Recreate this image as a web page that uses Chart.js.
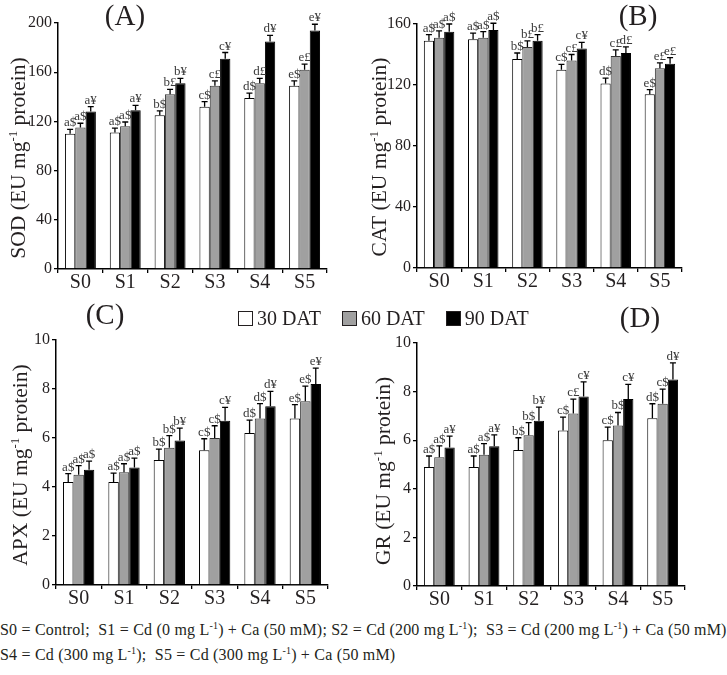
<!DOCTYPE html>
<html>
<head>
<meta charset="utf-8">
<script src="https://cdn.jsdelivr.net/npm/chart.js@4.4.0/dist/chart.umd.min.js"></script>
<style>
  body { margin: 0; width: 727px; height: 675px; background: #fff; position: relative; overflow: hidden;
         font-family: "Liberation Serif", "Times New Roman", serif; color: #231f20; }
  canvas { position: absolute; }
  .tag { position: absolute; font-size: 29px; line-height: 1; transform: translate(-50%, -50%); white-space: nowrap; }
  #legend { position: absolute; left: 238px; top: 308px; height: 20px; font-size: 20px; line-height: 20px; white-space: nowrap; }
  #legend span.key { display: inline-block; width: 13px; height: 13px; border: 1.5px solid #231f20; vertical-align: -1px; margin-right: 4px; }
  #legend span.item { margin-right: 16px; }
  .note { position: absolute; left: 0; font-size: 16px; line-height: 16px; letter-spacing: 0.2px; white-space: pre; }
  .note sup { font-size: 10px; vertical-align: 6px; line-height: 0; }
</style>
</head>
<body>
<canvas id="chartA" width="360" height="300" style="left:0;top:0"></canvas>
<canvas id="chartB" width="367" height="300" style="left:360px;top:0"></canvas>
<canvas id="chartC" width="360" height="320" style="left:0;top:300px"></canvas>
<canvas id="chartD" width="367" height="320" style="left:360px;top:300px"></canvas>

<div class="tag" style="left:125px;top:15px">(A)</div>
<div class="tag" style="left:638px;top:15px">(B)</div>
<div class="tag" style="left:105px;top:314px">(C)</div>
<div class="tag" style="left:640px;top:317px">(D)</div>

<div id="legend">
  <span class="item"><span class="key" style="background:#fff"></span>30 DAT</span>
  <span class="item"><span class="key" style="background:#a0a0a0"></span>60 DAT</span>
  <span class="item"><span class="key" style="background:#000"></span>90 DAT</span>
</div>

<div class="note" style="top:622px">S0 = Control;  S1 = Cd (0 mg L<sup>-1</sup>) + Ca (50 mM); S2 = Cd (200 mg L<sup>-1</sup>);  S3 = Cd (200 mg L<sup>-1</sup>) + Ca (50 mM)</div>
<div class="note" style="top:647px">S4 = Cd (300 mg L<sup>-1</sup>);  S5 = Cd (300 mg L<sup>-1</sup>) + Ca (50 mM)</div>

<script>
// Treatments and harvest times
const categories = ["S0", "S1", "S2", "S3", "S4", "S5"];
const seriesNames = ["30 DAT", "60 DAT", "90 DAT"];

// SOD (A): means, errors, significance letters for 30 / 60 / 90 DAT
const sodMean = [[110, 111, 125, 132, 139, 149], [115, 116, 142, 149, 151, 162], [128, 129, 151, 171, 185, 194]];
const sodErr = [[3.5, 3.5, 3.5, 4, 4, 4], [3.5, 3.5, 4, 4, 4, 4.5], [4, 4, 4, 5, 5, 5]];
const sodSig = [["a$", "a$", "b$", "c$", "d$", "e$"], ["a$", "a$", "b£", "c£", "d£", "e£"], ["a¥", "a¥", "b¥", "c¥", "d¥", "e¥"]];
const sodTicks = [0, 40, 80, 120, 160, 200];

// CAT (B)
const catMean = [[149, 150, 137, 130, 121, 114], [151, 151, 145, 136, 139, 131], [155, 156, 149, 144, 141, 134]];
const catErr = [[4, 4, 4, 3.5, 3.5, 3], [4.5, 4, 4, 4, 4, 3.5], [5, 4.5, 4, 4, 4, 4]];
const catSig = [["a$", "a$", "b$", "c$", "d$", "e$"], ["a$", "a$", "b£", "c£", "c£", "e£"], ["a$", "a$", "b£", "c¥", "d£", "e£"]];
const catTicks = [0, 40, 80, 120, 160];

// APX (C)
const apxMean = [[4.2, 4.2, 5.1, 5.5, 6.2, 6.8], [4.5, 4.6, 5.6, 6.0, 6.8, 7.5], [4.7, 4.8, 5.9, 6.7, 7.3, 8.2]];
const apxErr = [[0.35, 0.37, 0.45, 0.47, 0.53, 0.56], [0.37, 0.35, 0.5, 0.5, 0.6, 0.62], [0.36, 0.38, 0.5, 0.55, 0.6, 0.65]];
const apxSig = [["a$", "a$", "b$", "c$", "d$", "e$"], ["a$", "a$", "b$", "c$", "d$", "e$"], ["a$", "a$", "b¥", "c¥", "d¥", "e¥"]];

// GR (D)
const grMean = [[4.9, 4.9, 5.6, 6.4, 6.0, 6.9], [5.3, 5.4, 6.2, 7.1, 6.6, 7.5], [5.7, 5.75, 6.8, 7.8, 7.7, 8.5]];
const grErr = [[0.45, 0.45, 0.5, 0.55, 0.54, 0.6], [0.47, 0.46, 0.52, 0.59, 0.54, 0.6], [0.47, 0.47, 0.56, 0.6, 0.6, 0.68]];
const grSig = [["a$", "a$", "b$", "c$", "c$", "d$"], ["a$", "a$", "b$", "c£", "b$", "c$"], ["a¥", "a¥", "b¥", "c¥", "c¥", "d¥"]];
const smallTicks = [0, 2, 4, 6, 8, 10];

const fills = ["#ffffff", "#a0a0a0", "#000000"];
const inkColor = "#231f20";
const serif = "'Liberation Serif', 'Times New Roman', serif";

// Draws the upper error bars and the letters above them
const errorBars = {
    id: "errorBars",
    afterDatasetsDraw(chart) {
        const ctx = chart.ctx;
        const yScale = chart.scales.y;
        ctx.save();
        chart.data.datasets.forEach((ds, i) => {
            chart.getDatasetMeta(i).data.forEach((bar, j) => {
                const top = yScale.getPixelForValue(ds.data[j] + ds.errors[j]);
                ctx.strokeStyle = "#000";
                ctx.lineWidth = 1.3;
                ctx.beginPath();
                ctx.moveTo(bar.x, bar.y);
                ctx.lineTo(bar.x, top);
                ctx.moveTo(bar.x - 3, top);
                ctx.lineTo(bar.x + 3, top);
                ctx.stroke();
                ctx.fillStyle = "#3a3a3a";
                ctx.font = "13px " + serif;
                ctx.textAlign = "center";
                ctx.textBaseline = "alphabetic";
                ctx.fillText(ds.letters[j], bar.x, top - 3);
            });
        });
        ctx.restore();
    }
};

// Rotated y axis title with a superscript part
const yTitle = {
    id: "yTitle",
    afterDraw(chart, args, opts) {
        const ctx = chart.ctx;
        const parts = [[opts.name + " (EU mg", false], ["-1", true], [" protein)", false]];
        const bigFont = "21.5px " + serif;
        const supFont = "13px " + serif;
        ctx.save();
        let total = 0;
        parts.forEach(p => { ctx.font = p[1] ? supFont : bigFont; total += ctx.measureText(p[0]).width; });
        ctx.translate(opts.x, opts.cy);
        ctx.rotate(-Math.PI / 2);
        ctx.fillStyle = inkColor;
        ctx.textBaseline = "alphabetic";
        ctx.textAlign = "left";
        let pos = -total / 2;
        parts.forEach(p => {
            ctx.font = p[1] ? supFont : bigFont;
            ctx.fillText(p[0], pos, p[1] ? -8 : 0);
            pos += ctx.measureText(p[0]).width;
        });
        ctx.restore();
    }
};

let makePanel = (id, means, errs, sigs, ticks, name, area, titlePos) => {
    const canvas = document.getElementById(id);
    const datasets = seriesNames.map((label, i) => ({
        label: label,
        data: means[i],
        errors: errs[i],
        letters: sigs[i],
        backgroundColor: fills[i],
        borderColor: i === 1 ? "#333" : "#000",
        borderWidth: 1,
        categoryPercentage: 0.69,
        barPercentage: 1.0
    }));
    return new Chart(canvas.getContext("2d"), {
        type: "bar",
        data: { labels: categories, datasets: datasets },
        options: {
            responsive: false,
            animation: false,
            layout: { padding: { left: 0, top: area.top, right: canvas.width - area.right, bottom: 0 } },
            plugins: {
                legend: { display: false },
                tooltip: { enabled: false },
                yTitle: { name: name, x: titlePos.x, cy: titlePos.cy }
            },
            scales: {
                x: {
                    grid: { display: true, drawOnChartArea: false, offset: true, tickLength: 4, color: "#000", lineWidth: 1.3 },
                    border: { display: true, color: "#000", width: 1.5 },
                    ticks: { color: inkColor, font: { family: serif, size: 20, lineHeight: 1 }, padding: 0 },
                    afterFit: scale => { scale.height = canvas.height - area.bottom; }
                },
                y: {
                    min: ticks[0],
                    max: ticks[ticks.length - 1],
                    afterBuildTicks: scale => { scale.ticks = ticks.map(v => ({ value: v })); },
                    grid: { display: true, drawOnChartArea: false, tickLength: 4, color: "#000", lineWidth: 1.3 },
                    border: { display: true, color: "#000", width: 1.5 },
                    ticks: { color: inkColor, font: { family: serif, size: 16 }, padding: 2 },
                    afterFit: scale => { scale.width = area.left; }
                }
            }
        },
        plugins: [errorBars, yTitle]
    });
};

makePanel("chartA", sodMean, sodErr, sodSig, sodTicks, "SOD", { left: 58, right: 327, top: 23, bottom: 269 }, { x: 25, cy: 158 });
makePanel("chartB", catMean, catErr, catSig, catTicks, "CAT", { left: 57, right: 322, top: 24, bottom: 268 }, { x: 26, cy: 157 });
makePanel("chartC", apxMean, apxErr, apxSig, smallTicks, "APX", { left: 56, right: 328, top: 40, bottom: 285 }, { x: 27, cy: 165 });
makePanel("chartD", grMean, grErr, grSig, smallTicks, "GR", { left: 57, right: 325, top: 43, bottom: 286 }, { x: 30, cy: 171 });
</script>
</body>
</html>
